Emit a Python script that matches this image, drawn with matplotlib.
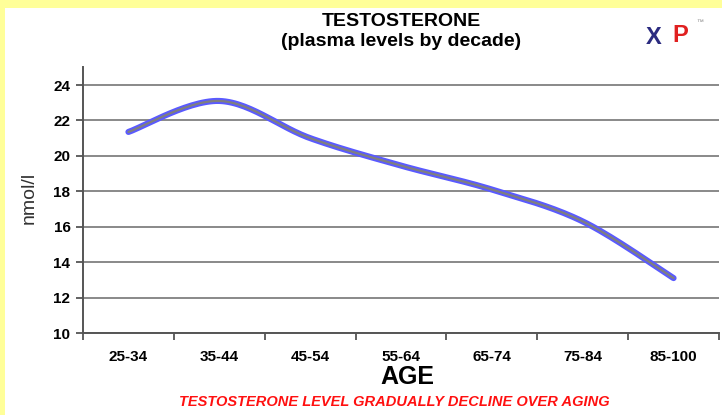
import numpy as np
import matplotlib
matplotlib.use("Agg")
import matplotlib.pyplot as plt
from matplotlib.patches import Rectangle
from matplotlib import font_manager

categories = ["25-34", "35-44", "45-54", "55-64", "65-74", "75-84", "85-100"]
values = [21.35, 23.1, 21.0, 19.45, 18.1, 16.3, 13.1]
yticks = [10, 12, 14, 16, 18, 20, 22, 24]

names = {f.name for f in font_manager.fontManager.ttflist}
narrow = "Liberation Sans Narrow" if "Liberation Sans Narrow" in names else "Liberation Sans"
plt.rcParams['font.family'] = ['Liberation Sans', 'DejaVu Sans']

W, H = 722, 415
fig = plt.figure(figsize=(W / 100, H / 100), dpi=100)
fig.patch.set_facecolor("#ffff99")
fig.patches.append(Rectangle((5 / W, 0), 1, 1 - 8 / H, transform=fig.transFigure,
                             facecolor="white", edgecolor="none", zorder=-5))

ax = fig.add_axes([83 / W, 1 - 333 / H, (719 - 83) / W, (333 - 67.3) / H])
ax.set_facecolor("none")

# smooth line (Catmull-Rom through the data points)
x = np.arange(len(values), dtype=float)
y = np.array(values, dtype=float)
px = np.concatenate([[x[0]], x, [x[-1]]])
py = np.concatenate([[y[0]], y, [y[-1]]])
sx, sy = [], []
t = np.linspace(0, 1, 30)
for i in range(1, len(px) - 2):
    p0, p1, p2, p3 = px[i - 1], px[i], px[i + 1], px[i + 2]
    q0, q1, q2, q3 = py[i - 1], py[i], py[i + 1], py[i + 2]
    b1x, b1y = p1 + (p2 - p0) / 6, q1 + (q2 - q0) / 6
    b2x, b2y = p2 - (p3 - p1) / 6, q2 - (q3 - q1) / 6
    bx = (1 - t) ** 3 * p1 + 3 * (1 - t) ** 2 * t * b1x + 3 * (1 - t) * t ** 2 * b2x + t ** 3 * p2
    by = (1 - t) ** 3 * q1 + 3 * (1 - t) ** 2 * t * b1y + 3 * (1 - t) * t ** 2 * b2y + t ** 3 * q2
    sx.extend(bx)
    sy.extend(by)
ax.plot(sx, sy, color="#5a5aff", lw=4.4, solid_capstyle="round", zorder=3)
ax.plot(sx, sy, color="#7f7f7f", lw=1.6, solid_capstyle="round", zorder=4)

ax.set_xlim(-0.5, len(categories) - 0.5)
ax.set_ylim(10, 25)
ax.set_yticks(yticks)
ax.set_yticklabels([str(v) for v in yticks], fontsize=11, fontweight="bold", family=narrow)
ax.yaxis.grid(True, color="#808080", lw=1.3)
ax.set_axisbelow(True)

ax.set_xticks(np.arange(-0.5, len(categories), 1.0))
ax.set_xticklabels([])
ax.set_xticks(np.arange(len(categories)), minor=True)
ax.set_xticklabels(categories, minor=True, fontsize=11, fontweight="bold", family=narrow)
ax.tick_params(axis="x", which="major", length=5, width=1.3, color="#555555", direction="out")
ax.tick_params(axis="x", which="minor", length=0, pad=12)
ax.tick_params(axis="y", length=5, width=1.3, color="#555555", direction="out", pad=4)

for s in ["top", "right"]:
    ax.spines[s].set_visible(False)
ax.spines["left"].set_color("#555555")
ax.spines["left"].set_linewidth(1.4)
ax.spines["bottom"].set_color("#555555")
ax.spines["bottom"].set_linewidth(1.4)

fig.text(29 / W, 1 - 198 / H, "nmol/l", rotation=90, fontsize=14, color="#333333",
         ha="center", va="center")
fig.text(401 / W, 1 - 21 / H, "TESTOSTERONE", fontsize=14, fontweight="bold", family=narrow,
         ha="center", va="center")
fig.text(401 / W, 1 - 42 / H, "(plasma levels by decade)", fontsize=14, fontweight="bold", family=narrow,
         ha="center", va="center")
fig.text(407 / W, 1 - 377 / H, "AGE", fontsize=18, fontweight="bold", ha="center", va="center")
fig.text(394 / W, 1 - 402 / H, "TESTOSTERONE LEVEL GRADUALLY DECLINE OVER AGING", fontsize=10.5,
         fontweight="bold", style="italic", color="#ff1010", ha="center", va="center")

# logo
fig.text(654 / W, 1 - 38 / H, "X", fontsize=17, fontweight="bold", color="#2b2b80",
         ha="center", va="center")
fig.text(680 / W, 1 - 36 / H, "P", fontsize=17, fontweight="bold", color="#e02020",
         ha="center", va="center")
fig.text(700 / W, 1 - 23 / H, "\u2122", fontsize=5, color="#888888", ha="center", va="center")

fig.savefig("out.png", dpi=100, facecolor=fig.get_facecolor())
